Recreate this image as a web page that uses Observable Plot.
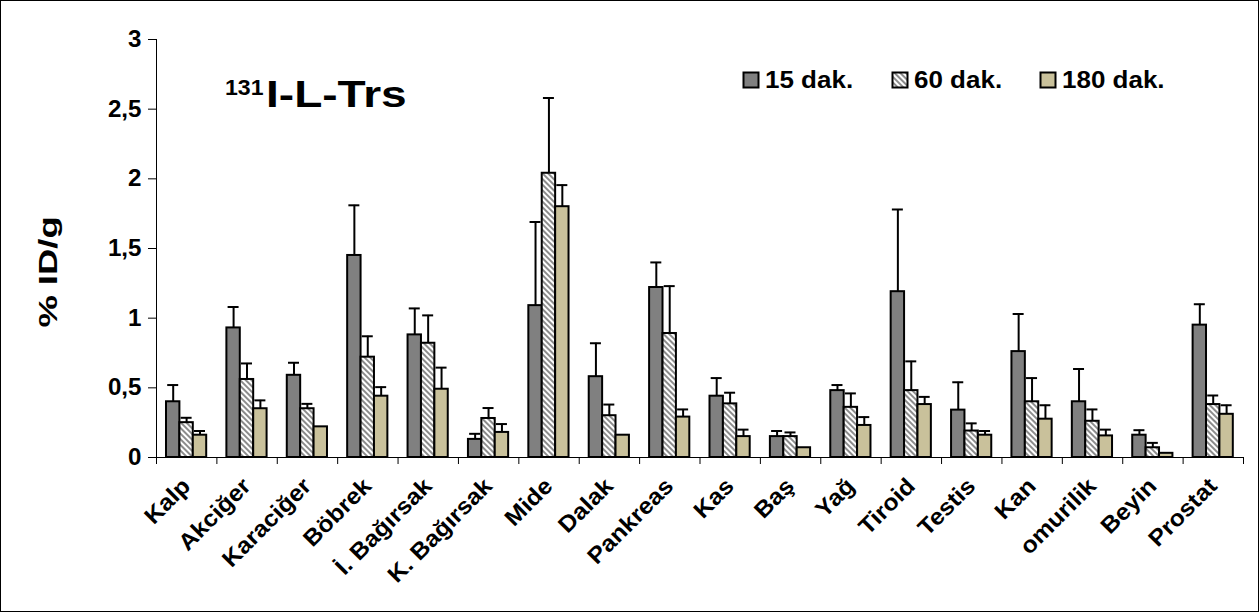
<!DOCTYPE html>
<html><head><meta charset="utf-8">
<script src="https://cdn.jsdelivr.net/npm/d3@7"></script>
<script src="https://cdn.jsdelivr.net/npm/@observablehq/plot@0.6"></script>
<style>
body{margin:0;background:#fff;font-family:"Liberation Sans",Arial,sans-serif}
#wrap{position:relative;width:1259px;height:612px;overflow:hidden}
#overlay{position:absolute;left:0;top:0;pointer-events:none}
</style></head><body><div id="wrap"></div>
<script>
// ---- data ----
const organs = ["Kalp","Akciğer","Karaciğer","Böbrek","İ. Bağırsak","K. Bağırsak","Mide","Dalak","Pankreas","Kas","Baş","Yağ","Tiroid","Testis","Kan","omurilik","Beyin","Prostat"];
const seriesNames = ["15 dak.","60 dak.","180 dak."];
const mean15 = [0.40,0.93,0.59,1.45,0.88,0.13,1.09,0.58,1.22,0.44,0.15,0.48,1.19,0.34,0.76,0.40,0.16,0.95];
const sd15   = [0.12,0.15,0.09,0.36,0.19,0.04,0.60,0.24,0.18,0.13,0.04,0.04,0.59,0.20,0.27,0.235,0.036,0.15];
const mean60 = [0.25,0.56,0.35,0.72,0.82,0.28,2.04,0.30,0.89,0.385,0.15,0.36,0.48,0.19,0.40,0.26,0.07,0.38];
const sd60   = [0.035,0.115,0.035,0.15,0.20,0.075,0.54,0.08,0.34,0.08,0.03,0.10,0.21,0.055,0.17,0.085,0.035,0.065];
const mean180 = [0.16,0.35,0.22,0.44,0.49,0.18,1.80,0.16,0.29,0.15,0.07,0.23,0.38,0.16,0.275,0.155,0.03,0.31];
const sd180   = [0.03,0.06,0,0.065,0.155,0.06,0.155,0,0.055,0.05,0,0.06,0.055,0.03,0.10,0.045,0,0.065];
const yTicks = [0,0.5,1,1.5,2,2.5,3];
const yLabel = "% ID/g";
const titleSup = "131", titleMain = "I-L-Trs";

// ---- layout ----
const W = 1259, H = 612, ML = 156, MR = 16, MT = 39, MB = 155;
const bw = (W - ML - MR) / organs.length;
const groupPad = 10, barW = 13.4;
const means = [mean15, mean60, mean180], sds = [sd15, sd60, sd180];
const rows = seriesNames.map((s, j) => organs.map((o, i) => ({organ: o, series: s, value: means[j][i], err: sds[j][i], top: means[j][i] + sds[j][i]})));
const fills = ["#808080", "url(#hatch60)", "#C9C19B"];
const fmt = d => String(d).replace(".", ",");
const FONT = '"Liberation Sans", Arial, sans-serif';

const defs = () => {
  const g = d3.create("svg:defs");
  const p = g.append("pattern").attr("id", "hatch60").attr("patternUnits", "userSpaceOnUse")
    .attr("width", 4).attr("height", 4).attr("patternTransform", "rotate(-45)");
  p.append("rect").attr("width", 4).attr("height", 4).attr("fill", "#fff");
  p.append("rect").attr("width", 2).attr("height", 4).attr("fill", "#8c8c8c");
  return g.node();
};

const marks = [defs];
seriesNames.forEach((s, j) => {
  marks.push(Plot.barY(rows[j], {x: "organ", y: "value", fill: fills[j], stroke: "#000", strokeWidth: 2,
    insetLeft: groupPad + j * barW, insetRight: bw - groupPad - (j + 1) * barW}));
});
seriesNames.forEach((s, j) => {
  const c = groupPad + (j + 0.5) * barW;
  const e = rows[j].filter(d => d.err > 0);
  marks.push(Plot.ruleX(e, {x: "organ", y1: "value", y2: "top", stroke: "#000", strokeWidth: 2, dx: c - bw / 2}));
  marks.push(Plot.tickY(e, {x: "organ", y: "top", stroke: "#000", strokeWidth: 2, insetLeft: c - 5.5, insetRight: bw - c - 5.5}));
});
marks.push(Plot.ruleY([0], {stroke: "#000"}));
marks.push(Plot.frame({anchor: "left", stroke: "#000"}));
marks.push(Plot.axisY({ticks: yTicks, tickSize: 8, tickPadding: 7, tickFormat: fmt, fontSize: 23, fontWeight: "bold", label: null}));
marks.push(Plot.axisX({ticks: organs, tickSize: 7, tickFormat: () => "", dx: -bw / 2, label: null}));
marks.push(Plot.axisX({ticks: [organs[organs.length - 1]], tickSize: 7, tickFormat: () => "", dx: bw / 2, label: null}));
marks.push(Plot.text(organs, {x: d => d, text: d => d, frameAnchor: "bottom", rotate: -45, textAnchor: "end", lineAnchor: "bottom",
  dx: 5, dy: 30, fontSize: 23, fontWeight: "bold", fill: "#000"}));

const chart = Plot.plot({
  width: W, height: H, marginLeft: ML, marginRight: MR, marginTop: MT, marginBottom: MB,
  style: {fontFamily: FONT, background: "#fff", color: "#000", overflow: "visible"},
  x: {domain: organs, padding: 0, round: false},
  y: {domain: [0, 3], ticks: yTicks},
  marks
});
const wrap = document.getElementById("wrap");
wrap.appendChild(chart);

// widen glyphs along the baseline, like the stretched original
function stretch(sel, k, size) {
  sel.each(function () {
    this.setAttribute("font-size", size);
    this.setAttribute("font-weight", "bold");
    const t = this.getAttribute("transform");
    if (t) this.setAttribute("transform", t + ` scale(${k},1)`);
    else {
      const x = +this.getAttribute("x") || 0, y = +this.getAttribute("y") || 0;
      this.removeAttribute("x"); this.removeAttribute("y");
      this.setAttribute("transform", `translate(${x},${y}) scale(${k},1)`);
    }
  });
}
stretch(d3.select(chart).selectAll('g[aria-label="y-axis tick label"] text'), 1.05, 23);
stretch(d3.select(chart).selectAll('g[aria-label="text"] text'), 1.08, 23);

// ---- overlay: title, legend, y label, border ----
const ov = d3.select(wrap).append("svg").attr("id", "overlay").attr("width", W).attr("height", H)
  .style("font-family", FONT).style("font-weight", "bold");
const od = ov.append("defs");
const p2 = od.append("pattern").attr("id", "hatch60b").attr("patternUnits", "userSpaceOnUse")
  .attr("width", 4).attr("height", 4).attr("patternTransform", "rotate(-45)");
p2.append("rect").attr("width", 4).attr("height", 4).attr("fill", "#fff");
p2.append("rect").attr("width", 2).attr("height", 4).attr("fill", "#8c8c8c");

ov.append("rect").attr("x", 0.5).attr("y", 0.5).attr("width", W - 1).attr("height", H - 1).attr("fill", "none").attr("stroke", "#000");

ov.append("text").attr("transform", "translate(225,95) scale(1.05,1)").attr("font-size", 22).text(titleSup);
ov.append("text").attr("transform", "translate(266,107) scale(1.28,1)").attr("font-size", 36).text(titleMain);

ov.append("text").attr("transform", "translate(56.7,272) rotate(-90) scale(1.4,1)").attr("text-anchor", "middle")
  .attr("font-size", 26).text(yLabel);

const legX = [743, 892, 1040];
const legFill = ["#808080", "url(#hatch60b)", "#C9C19B"];
seriesNames.forEach((s, j) => {
  ov.append("rect").attr("x", legX[j] + 0.5).attr("y", 72.5).attr("width", 15).attr("height", 15)
    .attr("fill", legFill[j]).attr("stroke", "#000").attr("stroke-width", 2);
  ov.append("text").attr("transform", `translate(${legX[j] + 22},87.5) scale(1.13,1)`).attr("font-size", 23).text(s);
});
</script></body></html>
